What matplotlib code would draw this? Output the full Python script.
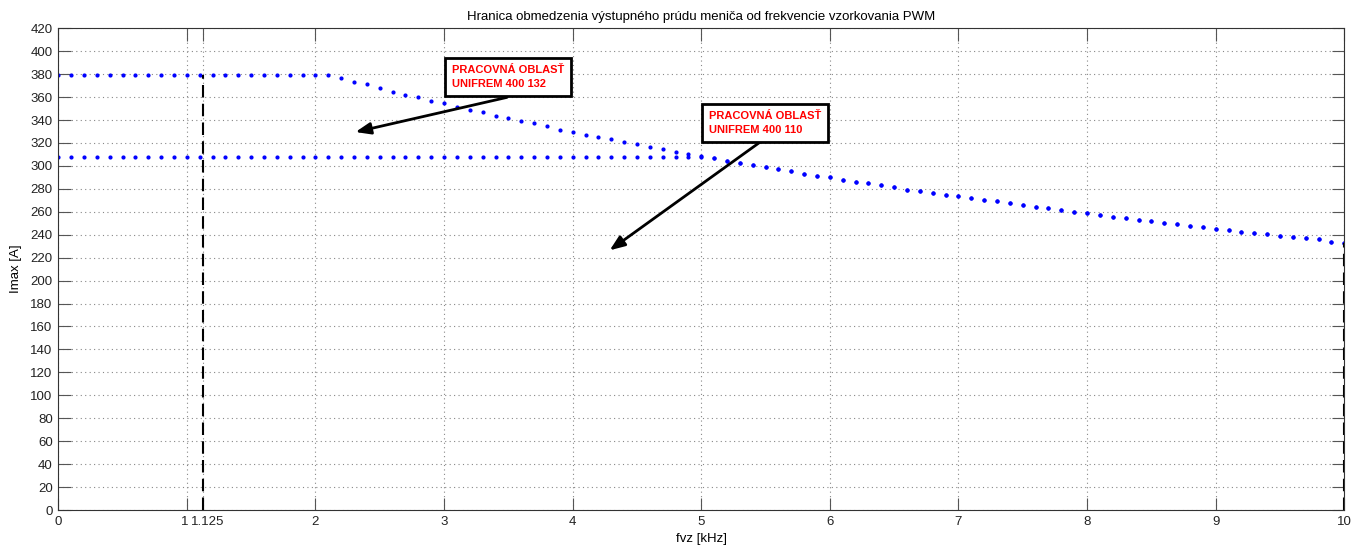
import numpy as np
import matplotlib
matplotlib.use("Agg")
import matplotlib.pyplot as plt
import matplotlib.transforms as mtransforms

plt.rcParams["font.family"] = ["Liberation Sans", "DejaVu Sans"]

# ---------------------------------------------------------------------
# Data
# ---------------------------------------------------------------------
FREQ_KHZ = np.round(np.arange(0, 101) * 0.1, 1)

# UNIFREM 400 132: flat 379 A up to 2.1 kHz, then derated
I_132_DERATE = [376.3, 373.2, 371.1, 367.9, 364.7, 362.1, 359.8, 356.6, 354.5,
                351.1, 349.0, 346.7, 343.8, 341.5, 339.1, 337.4, 334.8, 331.3,
                329.6, 327.0, 325.5, 323.2, 321.1, 318.8, 316.5, 314.5, 312.4,
                310.4, 308.3, 306.5, 304.5, 302.6, 300.9, 298.9, 297.0, 295.3,
                293.3, 291.5, 290.3, 288.0, 286.3, 284.8, 283.7, 281.3, 279.3,
                277.8, 276.7, 274.9, 273.5, 272.0, 270.6, 269.1, 267.7, 265.9,
                264.5, 263.0, 261.3, 260.1, 258.7, 256.9, 255.5, 254.6, 253.1,
                251.7, 249.9, 249.1, 247.9, 246.4, 245.3, 244.1, 242.7, 241.8,
                240.3, 238.9, 238.0, 236.9, 236.0, 233.9, 233.1]
I_132 = [379.0] * 22 + I_132_DERATE

# UNIFREM 400 110: flat 308 A up to 5 kHz, then follows the same curve
I_110 = [308.0] * 51 + I_132_DERATE[29:]

DASH_X = [1.125, 10.0]
DASH_TOP = [379.0, 233.1]

X_TICKS = [0, 1, 1.125, 2, 3, 4, 5, 6, 7, 8, 9, 10]
X_TICK_LABELS = ["0", "1", "1.125", "2", "3", "4", "5", "6", "7", "8", "9", "10"]
Y_TICKS = list(range(0, 421, 20))

NOTE_TEXT = ["PRACOVNÁ OBLASŤ\nUNIFREM 400 132", "PRACOVNÁ OBLASŤ\nUNIFREM 400 110"]
NOTE_BOX_XY = [(3.06, 377.5), (5.06, 337.5)]
NOTE_ARROW_TAIL = [(3.51, 360.3), (5.48, 322.6)]
NOTE_ARROW_HEAD = [(2.29, 329.0), (4.27, 225.0)]

# ---------------------------------------------------------------------
# Plot
# ---------------------------------------------------------------------
fig = plt.figure(figsize=(13.58, 5.49), dpi=100)
ax = fig.add_axes([0.0429, 0.0710, 0.9470, 0.8775])

ax.plot(FREQ_KHZ, I_132, linestyle="none", marker=".", markersize=4, color="#0000ff")
ax.plot(FREQ_KHZ, I_110, linestyle="none", marker=".", markersize=4, color="#0000ff")

for x, top in zip(DASH_X, DASH_TOP):
    ax.plot([x, x], [0, top], linestyle=(0, (6, 3)), color="black", linewidth=1.5)

for text, box_xy, tail, head in zip(NOTE_TEXT, NOTE_BOX_XY, NOTE_ARROW_TAIL, NOTE_ARROW_HEAD):
    ax.annotate("", xy=head, xytext=tail,
                arrowprops=dict(arrowstyle="-|>,head_length=0.9,head_width=0.35",
                                color="black", lw=2))
    ax.text(box_xy[0], box_xy[1], text, color="red", fontweight="bold", fontsize=8,
            va="center", ha="left", linespacing=1.4,
            bbox=dict(boxstyle="square,pad=0.65", facecolor="white", edgecolor="black",
                      linewidth=2))

ax.set_xlim(0, 10)
ax.set_ylim(0, 420)
ax.set_xticks(X_TICKS)
ax.set_xticklabels(X_TICK_LABELS)
ax.set_yticks(Y_TICKS)
ax.tick_params(direction="in", length=9, width=0.8, color="#555555",
               top=True, right=True, labelsize=9.5, pad=4, labelcolor="#222222")
ax.grid(True, linestyle=(0, (1, 3)), color="#888888", linewidth=0.8)
for sp in ax.spines.values():
    sp.set_color("#333333")

# keep "1" and "1.125" apart as in the reference
shift = mtransforms.ScaledTranslation(5 / 100, 0, fig.dpi_scale_trans)
lbl = ax.get_xticklabels()[2]
lbl.set_transform(lbl.get_transform() + shift)
shift_left = mtransforms.ScaledTranslation(-2 / 100, 0, fig.dpi_scale_trans)
lbl1 = ax.get_xticklabels()[1]
lbl1.set_transform(lbl1.get_transform() + shift_left)

ax.set_title("Hranica obmedzenia výstupného prúdu meniča od frekvencie vzorkovania PWM",
             fontsize=9.5, pad=6)
ax.set_xlabel("fvz [kHz]", fontsize=9.5, labelpad=4)
ax.set_ylabel("Imax [A]", fontsize=9.5, labelpad=6)

fig.savefig("out.png", dpi=100)
